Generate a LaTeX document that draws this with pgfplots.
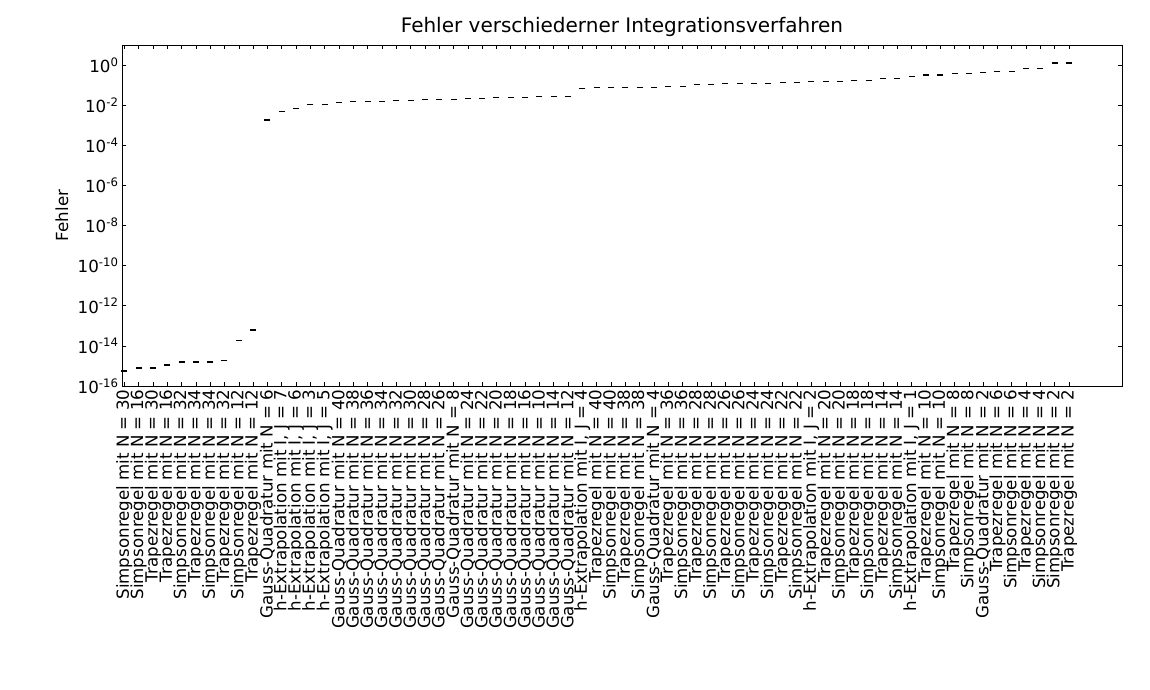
\documentclass[border=0pt]{standalone}
\usepackage{fontspec}
\setmainfont{DejaVu Sans}
\usepackage{pgfplots}
\pgfplotsset{compat=1.18}

\begin{document}
\begin{tikzpicture}
\useasboundingbox (-122pt,-304pt) rectangle (1028pt,386pt);
\begin{axis}[
    at={(0pt,0pt)}, anchor=south west,
    scale only axis,
    width=1000pt, height=341pt,
    ymode=log, log basis y=10,
    xmin=-0.16, xmax=69.7,
    ymin=1e-16, ymax=10,
    xtick={0,...,66},
    xticklabels={
        {Simpsonregel mit N = 30},{Simpsonregel mit N = 16},{Trapezregel mit N = 30},{Trapezregel mit N = 16},
        {Simpsonregel mit N = 32},{Trapezregel mit N = 34},{Simpsonregel mit N = 34},{Trapezregel mit N = 32},
        {Simpsonregel mit N = 12},{Trapezregel mit N = 12},{Gauss-Quadratur mit N = 6},
        {h-Extrapolation mit I, J = 7},{h-Extrapolation mit I, J = 6},{h-Extrapolation mit I, J = 3},
        {h-Extrapolation mit I, J = 5},
        {Gauss-Quadratur mit N = 40},{Gauss-Quadratur mit N = 38},{Gauss-Quadratur mit N = 36},
        {Gauss-Quadratur mit N = 34},{Gauss-Quadratur mit N = 32},{Gauss-Quadratur mit N = 30},
        {Gauss-Quadratur mit N = 28},{Gauss-Quadratur mit N = 26},{Gauss-Quadratur mit N = 8},
        {Gauss-Quadratur mit N = 24},{Gauss-Quadratur mit N = 22},{Gauss-Quadratur mit N = 20},
        {Gauss-Quadratur mit N = 18},{Gauss-Quadratur mit N = 16},{Gauss-Quadratur mit N = 10},
        {Gauss-Quadratur mit N = 14},{Gauss-Quadratur mit N = 12},{h-Extrapolation mit I, J = 4},
        {Trapezregel mit N = 40},{Simpsonregel mit N = 40},{Trapezregel mit N = 38},{Simpsonregel mit N = 38},
        {Gauss-Quadratur mit N = 4},{Trapezregel mit N = 36},{Simpsonregel mit N = 36},
        {Trapezregel mit N = 28},{Simpsonregel mit N = 28},{Trapezregel mit N = 26},{Simpsonregel mit N = 26},
        {Trapezregel mit N = 24},{Simpsonregel mit N = 24},{Trapezregel mit N = 22},{Simpsonregel mit N = 22},
        {h-Extrapolation mit I, J = 2},
        {Trapezregel mit N = 20},{Simpsonregel mit N = 20},{Trapezregel mit N = 18},{Simpsonregel mit N = 18},
        {Trapezregel mit N = 14},{Simpsonregel mit N = 14},{h-Extrapolation mit I, J = 1},
        {Trapezregel mit N = 10},{Simpsonregel mit N = 10},{Trapezregel mit N = 8},{Simpsonregel mit N = 8},
        {Gauss-Quadratur mit N = 2},{Trapezregel mit N = 6},{Simpsonregel mit N = 6},
        {Trapezregel mit N = 4},{Simpsonregel mit N = 4},{Simpsonregel mit N = 2},{Trapezregel mit N = 2}
    },
    ytick={1e-16,1e-14,1e-12,1e-10,1e-8,1e-6,1e-4,1e-2,1},
    yminorticks=false,
    yticklabel={10\textsuperscript{\pgfmathparse{int(round(\tick))}\pgfmathresult}},
    tick align=inside,
    major tick length=4pt,
    every tick/.style={black, line width=0.6pt},
    axis line style={line width=0.9pt},
    xticklabel style={rotate=90, anchor=east, font=\fontsize{16.67}{18}\selectfont},
    yticklabel style={font=\fontsize{16.67}{18}\selectfont},
    title={Fehler verschiederner Integrationsverfahren},
    title style={at={(axis description cs:0.5,1)}, anchor=center, yshift=12pt,
        font=\fontsize{20}{22}\selectfont},
    ylabel={Fehler},
    ylabel style={at={(axis description cs:-0.06,0.5)}, anchor=center, rotate=0,
        font=\fontsize{16.67}{18}\selectfont},
]
\addplot[only marks, mark=-, mark size=3pt, mark options={line width=1.3pt, black}] coordinates {
    (0,5.6e-16) (1,8e-16) (2,8e-16) (3,1.1e-15) (4,1.6e-15) (5,1.6e-15) (6,1.6e-15)
    (7,1.9e-15) (8,1.9e-14) (9,6.3e-14) (10,1.8e-3) (11,5e-3) (12,6.8e-3)
    (13,1.12e-2) (14,1.12e-2) (15,1.41e-2) (16,1.58e-2) (17,1.58e-2) (18,1.58e-2)
    (19,1.7e-2) (20,1.7e-2) (21,1.9e-2) (22,1.9e-2) (23,1.9e-2) (24,2.14e-2)
    (25,2.14e-2) (26,2.4e-2) (27,2.4e-2) (28,2.4e-2) (29,2.7e-2) (30,2.7e-2)
    (31,2.7e-2) (32,6.8e-2) (33,7.6e-2) (34,7.6e-2) (35,7.6e-2) (36,7.6e-2)
    (37,7.6e-2) (38,8.5e-2) (39,8.5e-2) (40,0.107) (41,0.107) (42,0.12)
    (43,0.12) (44,0.12) (45,0.12) (46,0.135) (47,0.135) (48,0.151) (49,0.151)
    (50,0.151) (51,0.17) (52,0.17) (53,0.214) (54,0.214) (55,0.28) (56,0.316)
    (57,0.316) (58,0.38) (59,0.38) (60,0.43) (61,0.48) (62,0.48) (63,0.68)
    (64,0.68) (65,1.26) (66,1.26)
};
\end{axis}
\end{tikzpicture}
\end{document}
